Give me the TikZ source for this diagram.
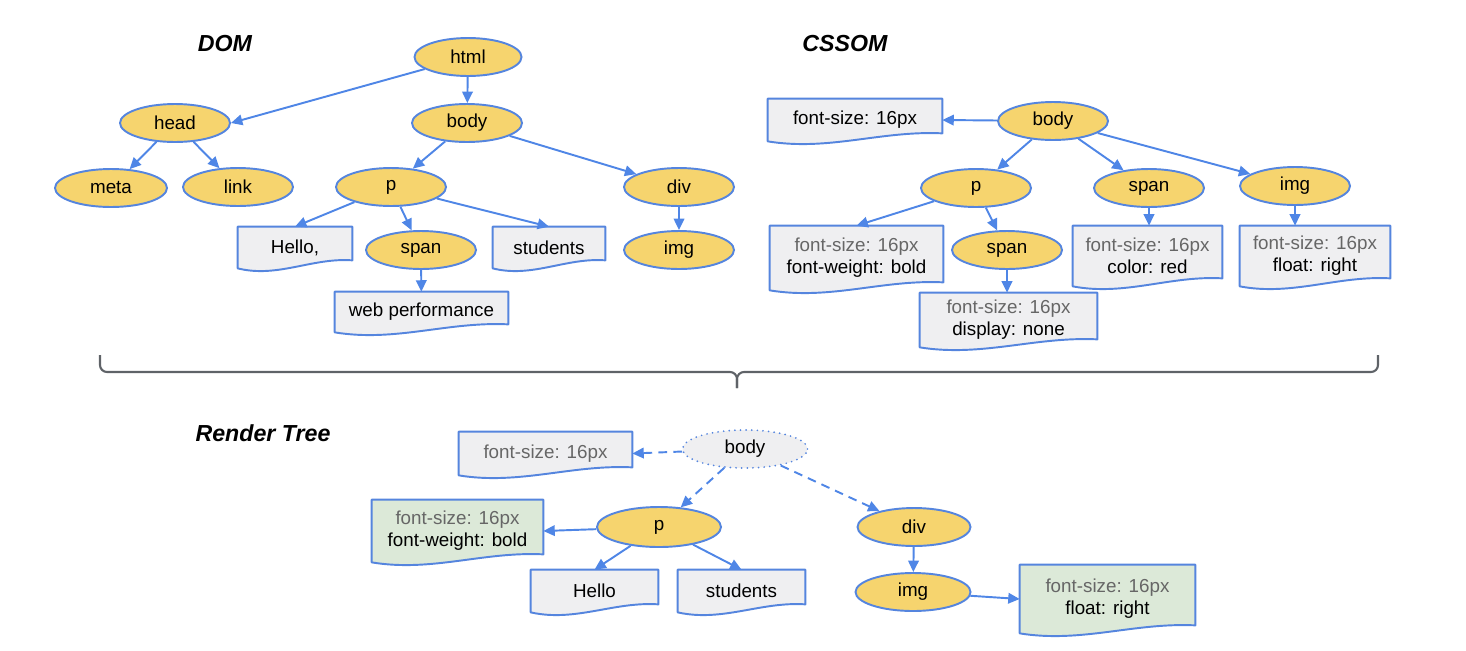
\documentclass[tikz,border=0pt]{standalone}
\usepackage{fontspec}
\setmainfont{Liberation Sans}
\usetikzlibrary{shapes.geometric,arrows.meta,calc,backgrounds}
\definecolor{ylw}{HTML}{F6D46E}
\definecolor{bordblue}{HTML}{5585DE}
\definecolor{arrblue}{HTML}{4F86E6}
\definecolor{boxgray}{HTML}{EFEFF1}
\definecolor{boxgreen}{HTML}{DCE9D8}
\definecolor{txtgray}{HTML}{666666}
\definecolor{bracegray}{HTML}{5F6368}
\newcommand\nodefont{\fontsize{10.7}{12.5}\selectfont}
\newcommand\titlefont{\fontsize{13.2}{15}\selectfont\bfseries\itshape}
\newcommand\gl[1]{{\color{txtgray}#1}}
\newcommand\docpath[2][boxgray]{\path[draw=bordblue,line width=1.1pt,line join=round,fill=#1]
 (#2.north west) -- (#2.north east) -- ($(#2.south east)+(0,-8)$)
 .. controls ($(#2.south west)!0.65!(#2.south east)+(0,-11)$) and ($(#2.south west)!0.35!(#2.south east)+(0,10)$) .. (#2.south west) -- cycle;}
\begin{document}
\begin{tikzpicture}[x=0.02cm,y=-0.02cm,
 el/.style={ellipse, draw=bordblue, line width=1.1pt, fill=ylw, minimum width=2.2cm, minimum height=0.76cm, inner sep=0pt, font=\nodefont},
 doc/.style={rectangle, inner sep=0pt, font=\nodefont, align=center},
 edge/.style={draw=arrblue, line width=1.1pt, -{Triangle[length=6.5pt,width=6pt]}},
 dedge/.style={edge, dash pattern=on 5pt off 3.5pt},
 ttl/.style={font=\titlefont, inner sep=0pt},
]
\useasboundingbox (0,0) rectangle (1466,650);

% titles
\node[ttl] (tdom) at (225,44) {DOM};
\node[ttl] (tcss) at (845,44) {CSSOM};
\node[ttl] (trt) at (263,433) {Render Tree};

% DOM
\node[el, minimum width=2.14cm] (html) at (468,57) {html};
\node[el] (head) at (175,123) {head};
\node[el] (body) at (467,123) {body};
\node[el, minimum width=2.24cm] (meta) at (111,188) {meta};
\node[el] (link) at (238,187) {link};
\node[el] (p) at (391,187) {p};
\node[el] (div) at (679,187) {div};
\node[el] (span) at (421,250) {span};
\node[el] (img) at (679,250) {img};
\node[doc, minimum width=2.28cm, minimum height=0.82cm] (hello) at (295,247.5) {Hello,};
\node[doc, minimum width=2.24cm, minimum height=0.82cm] (students) at (549,247.5) {students};
\node[doc, minimum width=3.46cm, minimum height=0.80cm] (web) at (421.5,312) {web performance};

\draw[edge] (html) -- (head.east);
\draw[edge] (html) -- (body);
\draw[edge] (head) -- (meta);
\draw[edge] (head) -- (link);
\draw[edge] (body) -- (p);
\draw[edge] (body) -- (div);
\draw[edge] (p) -- (hello.north);
\draw[edge] (p) -- (span);
\draw[edge] (p) -- (students.north);
\draw[edge] (span) -- (web);
\draw[edge] (div) -- (img);

% CSSOM
\node[el] (cbody) at (1053,121) {body};
\node[el] (cp) at (976,188) {p};
\node[el] (cspan) at (1149,188) {span};
\node[el] (cimg) at (1295,186) {img};
\node[el] (cspan2) at (1007,250) {span};
\node[doc, minimum width=3.48cm, minimum height=0.84cm] (cfs) at (855,120) {font-size: 16px};
\node[doc, minimum width=3.46cm, minimum height=1.28cm] (cpbox) at (856.5,258) {\gl{font-size: 16px}\\font-weight: bold};
\node[doc, minimum width=2.98cm, minimum height=1.20cm] (cspanbox) at (1147.5,256) {\gl{font-size: 16px}\\color: red};
\node[doc, minimum width=3.0cm, minimum height=1.20cm] (cimgbox) at (1315,256) {\gl{font-size: 16px}\\float: right};
\node[doc, minimum width=3.54cm, minimum height=1.08cm] (cdisp) at (1008.5,320) {\gl{font-size: 16px}\\display: none};

\draw[edge] (cbody) -- (cfs.east);
\draw[edge] (cbody) -- (cp);
\draw[edge] (cbody) -- (cspan);
\draw[edge] (cbody) -- (cimg);
\draw[edge] (cp) -- (cpbox.north);
\draw[edge] (cp) -- (cspan2);
\draw[edge] (cspan) -- (cspan.south |- cspanbox.north);
\draw[edge] (cimg) -- (cimg.south |- cimgbox.north);
\draw[edge] (cspan2) -- (cspan2.south |- cdisp.north);

% brace
\draw[bracegray, line width=1.2pt, rounded corners=4] (100,355) -- (100,372) -- (737,372) -- (737,388);
\draw[bracegray, line width=1.2pt, rounded corners=4] (1378,355) -- (1378,372) -- (737,372) -- (737,388);

% Render tree
\node[el, fill=boxgray, draw=bordblue, dash pattern=on 0pt off 3.2pt, line cap=round, minimum width=2.5cm] (rbody) at (745,449) {body};
\node[el, minimum width=2.48cm, minimum height=0.8cm] (rp) at (659,527) {p};
\node[el, minimum width=2.26cm] (rdiv) at (914,527) {div};
\node[el, minimum width=2.3cm] (rimg) at (913,592) {img};
\node[doc, minimum width=3.46cm, minimum height=0.86cm] (rfs) at (545.5,453.5) {\gl{font-size: 16px}};
\node[doc, minimum width=3.42cm, minimum height=1.24cm] (rgreen) at (457.5,531) {\gl{font-size: 16px}\\font-weight: bold};
\node[doc, minimum width=2.54cm, minimum height=0.84cm] (rhello) at (594.5,591) {Hello};
\node[doc, minimum width=2.54cm, minimum height=0.84cm] (rstud) at (741.5,591) {students};
\node[doc, minimum width=3.5cm, minimum height=1.36cm] (rfloat) at (1107.5,599) {\gl{font-size: 16px}\\float: right};

\draw[dedge] (rbody) -- (rfs.east);
\draw[dedge] (rbody) -- (rp);
\draw[dedge] (rbody) -- (rdiv);
\draw[edge] (rp) -- (rgreen.east);
\draw[edge] (rp) -- (rhello.north);
\draw[edge] (rp) -- (rstud.north);
\draw[edge] (rdiv) -- (rimg);
\draw[edge] (rimg) -- (rfloat.west);

\begin{scope}[on background layer]
\docpath{hello}
\docpath{students}
\docpath{web}
\docpath{cfs}
\docpath{cpbox}
\docpath{cspanbox}
\docpath{cimgbox}
\docpath{cdisp}
\docpath{rfs}
\docpath[boxgreen]{rgreen}
\docpath{rhello}
\docpath{rstud}
\docpath[boxgreen]{rfloat}
\end{scope}
\end{tikzpicture}
\end{document}
